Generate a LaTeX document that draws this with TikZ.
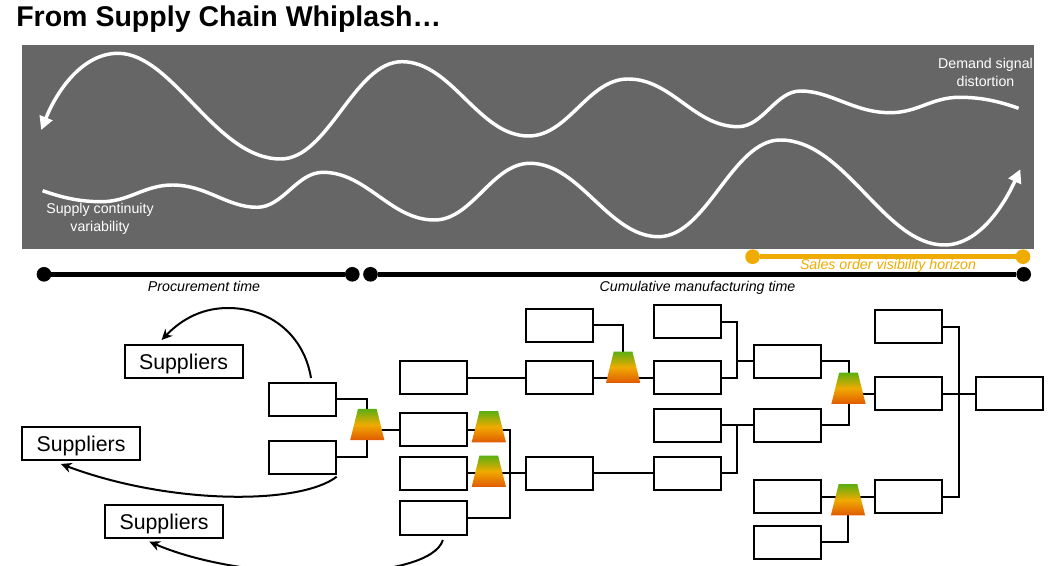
\documentclass[tikz,border=0pt]{standalone}
\usepackage{fontspec}
\setmainfont{Liberation Sans}
\usetikzlibrary{arrows.meta,shapes.geometric}
\pgfdeclarelayer{bg}
\pgfsetlayers{bg,main}
\definecolor{panelgray}{HTML}{666666}
\definecolor{horizongold}{HTML}{F0AB00}
\definecolor{bufgreen}{HTML}{5BAF12}
\definecolor{bufred}{HTML}{E05A00}
\tikzset{
    partbox/.style={rectangle, draw, line width=1.5pt, fill=white, inner sep=0mm, outer sep=0mm, minimum width=50.25pt, minimum height=24.75pt},
    supplierbox/.style={rectangle, draw, line width=1.5pt, fill=white, inner sep=0mm, outer sep=0mm, minimum width=88.5pt, minimum height=24.75pt, text depth=0pt, font=\fontsize{16}{19}\selectfont},
    buffer/.style={trapezium, trapezium angle=76, draw=none, inner sep=0mm, outer sep=0mm, top color=bufgreen, bottom color=bufred, middle color=horizongold, execute at begin node={\phantom{\rule{14pt}{23.4pt}}}},
    link/.style={line width=1.5pt},
    loopback/.style={line width=1.5pt, -{Stealth[length=8pt,width=7.5pt]}},
    wave/.style={line width=2.6pt, white},
    dot/.style={circle, fill=black, inner sep=0mm, outer sep=0mm, minimum size=11pt},
    golddot/.style={circle, fill=horizongold, inner sep=0mm, outer sep=0mm, minimum size=11pt},
    caption/.style={inner sep=0mm, align=center, font=\fontsize{10.65}{13.5}\selectfont}
}

\begin{document}
\begin{tikzpicture}[x=.75pt, y=-.75pt]
        \clip (0,0) rectangle (1050,566);
        \node (title) [inner sep=0mm, anchor=base west, font=\fontsize{21.4}{25}\selectfont\bfseries] at (16,27) {From Supply Chain Whiplash…};
        \fill[panelgray] (21.5,45.3) rectangle (1034,248.7);
        \draw[wave, -{Triangle[length=10pt,width=10pt]}] (1018.6,108.3)
                .. controls +(-20,-7) and +(22,0) .. (959.5,97.3)
                .. controls +(-28,0) and +(28,0) .. (890,112.7)
                .. controls +(-36,0) and +(30,0) .. (800.6,91)
                .. controls +(-25,0) and +(25,0) .. (738,126.7)
                .. controls +(-44,0) and +(44,0) .. (628,79)
                .. controls +(-40,0) and +(40,0) .. (528.5,136)
                .. controls +(-50,0) and +(50,0) .. (402,61.7)
                .. controls +(-48,0) and +(48,0) .. (280.6,159)
                .. controls +(-65,0) and +(55,0) .. (118,53.3)
                .. controls +(-35,0) and +(16,-40) .. (41.2,130);
        \draw[wave, -{Triangle[length=10pt,width=10pt]}] (42.6,190.7)
                .. controls +(20,7) and +(-22,0) .. (101.4,201.7)
                .. controls +(28,0) and +(-28,0) .. (172.4,185)
                .. controls +(34,0) and +(-30,0) .. (257,207.3)
                .. controls +(26,0) and +(-26,0) .. (322.9,172.3)
                .. controls +(44,0) and +(-44,0) .. (434.4,220)
                .. controls +(38,0) and +(-38,0) .. (530,163.3)
                .. controls +(50,0) and +(-50,0) .. (658.6,236.7)
                .. controls +(48,0) and +(-48,0) .. (780.3,140)
                .. controls +(65,0) and +(-60,0) .. (944.3,245)
                .. controls +(35,0) and +(-16,35) .. (1020.3,169.3);
        \node (supply) [caption, white] at (100,218.5) {Supply continuity\\variability};
        \node (demand) [caption, white] at (985.5,72.5) {Demand signal\\distortion};
        \node (g0) [golddot] at (752.6,256.7) {};
        \node (g1) [golddot] at (1023,256.7) {};
        \node (m0) [dot] at (44,274.3) {};
        \node (m1) [dot] at (352.3,274.3) {};
        \node (m2) [dot] at (370.5,274.3) {};
        \node (m3) [dot] at (1023.7,274.3) {};
        \draw[horizongold, line width=3.4pt] (g0) -- (g1);
        \draw[line width=3.4pt] (m0) -- (m1);
        \draw[line width=3.4pt] (m2) -- (m3);
        \node (horizon) [caption, text=horizongold, font=\fontsize{10.65}{13.5}\selectfont\itshape] at (888,265.5) {Sales order visibility horizon};
        \node (proc) [caption, font=\fontsize{10.65}{13.5}\selectfont\itshape] at (204,286) {Procurement time};
        \node (cum) [caption, font=\fontsize{10.65}{13.5}\selectfont\itshape] at (697.5,288) {Cumulative manufacturing time};
        \node (supA) [supplierbox] at (183.5,361.5) {Suppliers};
        \node (supB) [supplierbox] at (81,443.5) {Suppliers};
        \node (supC) [supplierbox] at (164,521.5) {Suppliers};
        \node (p1) [partbox] at (302.3,399.5) {};
        \node (p2) [partbox] at (302.3,457.5) {};
        \node (a1) [partbox] at (433,378) {};
        \node (a2) [partbox] at (433,429.7) {};
        \node (a3) [partbox] at (433,473.5) {};
        \node (a4) [partbox] at (433,518) {};
        \node (b1) [partbox] at (559.3,325.5) {};
        \node (b2) [partbox] at (559.3,378) {};
        \node (b3) [partbox] at (559.3,473.5) {};
        \node (c1) [partbox] at (687,321.7) {};
        \node (c2) [partbox] at (687,378) {};
        \node (c3) [partbox] at (687,425.4) {};
        \node (c4) [partbox] at (687,473.5) {};
        \node (d1) [partbox] at (787.5,361.3) {};
        \node (d2) [partbox] at (787.5,425.4) {};
        \node (d3) [partbox] at (787.5,496.6) {};
        \node (d4) [partbox] at (787.5,542.2) {};
        \node (e1) [partbox] at (908.5,327) {};
        \node (e2) [partbox] at (908.5,394) {};
        \node (e3) [partbox] at (908.5,496.6) {};
        \node (f1) [partbox] at (1009.4,394) {};
        \node (t1) [buffer] at (367.3,424.6) {};
        \node (t2) [buffer] at (488.8,426.8) {};
        \node (t3) [buffer] at (488.8,471.2) {};
        \node (t4) [buffer] at (623.1,367.2) {};
        \node (t5) [buffer] at (848.5,388.2) {};
        \node (t6) [buffer] at (848,499.8) {};
        \coordinate (busA) at (509.5,473.5);
        \coordinate (busC) at (737,361.3);
        \coordinate (busD) at (737,425.4);
        \coordinate (busE) at (958.8,394);
        \coordinate (r1) at (311,378);
        \coordinate (r2) at (161.6,340);
        \coordinate (r3) at (336.7,476.7);
        \coordinate (r4) at (60.9,464);
        \coordinate (r5) at (442.9,540);
        \coordinate (r6) at (149.4,541.7);
        \draw[loopback] (r1) .. controls (304,335) and (270,308) .. (228,308) .. controls (198,308) and (178,323) .. (r2);
        \draw[loopback] (r3) .. controls (300,505) and (170,505) .. (r4);
        \draw[loopback] (r5) .. controls (430,582) and (250,585) .. (r6);
        \begin{pgfonlayer}{bg}
                \draw[link] (p1.east) -| (t1.center);
                \draw[link] (p2.east) -| (t1.center);
                \draw[link] (a2.west) -- (a2.west -| t1.center);
                \draw[link] (a2.east) -| (busA);
                \draw[link] (a4.east) -| (busA);
                \draw[link] (a3.east) -- (b3.west);
                \draw[link] (a1.east) -- (b2.west);
                \draw[link] (b2.east) -- (c2.west);
                \draw[link] (b1.east) -| (t4.center);
                \draw[link] (b3.east) -- (c4.west);
                \draw[link] (c1.east) -| (busC);
                \draw[link] (c2.east) -| (busC);
                \draw[link] (busC) -- (d1.west);
                \draw[link] (c3.east) -- (d2.west);
                \draw[link] (c4.east) -| (busD);
                \draw[link] (d1.east) -| (t5.center);
                \draw[link] (d2.east) -| (t5.center);
                \draw[link] (e2.west) -- (e2.west -| t5.center);
                \draw[link] (d3.east) -- (e3.west);
                \draw[link] (d4.east) -| (t6.center);
                \draw[link] (e2.east) -- (f1.west);
                \draw[link] (e1.east) -| (busE);
                \draw[link] (e3.east) -| (busE);
        \end{pgfonlayer}
\end{tikzpicture}
\end{document}
